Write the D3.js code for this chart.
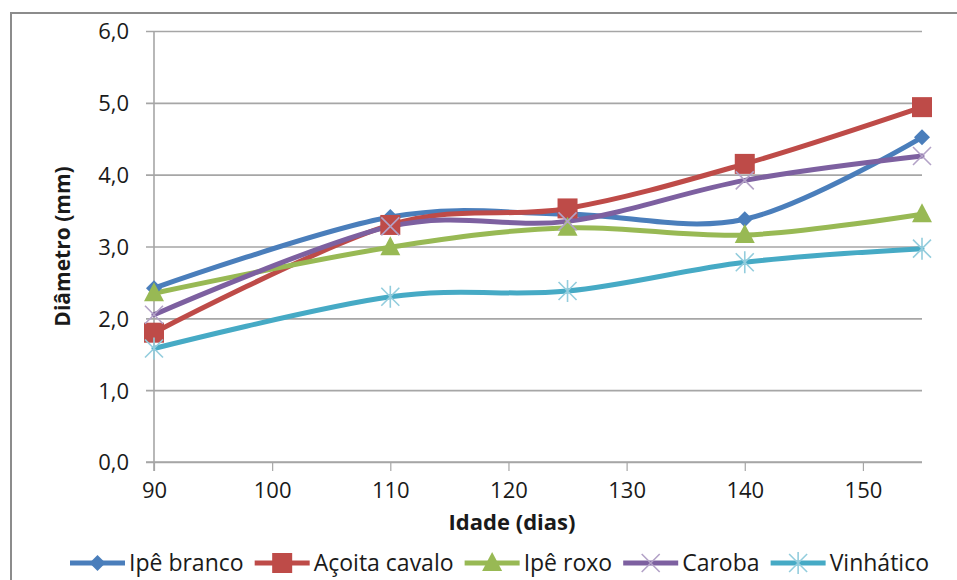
<!DOCTYPE html>
<html>
<head>
<meta charset="utf-8">
<script src="https://cdn.jsdelivr.net/npm/d3@7"></script>
<style>
  html, body { margin: 0; padding: 0; background: #fff; }
  svg { display: block; }
  text { font-family: "Open Sans", Lato, "Liberation Sans", sans-serif; fill: #1a1a1a; }
</style>
</head>
<body>
<svg id="chart" width="957" height="580"></svg>
<script>
// Idade (dias) at which each diameter was measured
const ages = [90, 110, 125, 140, 155];

// Diâmetro (mm) per species
const ipeBranco     = [2.42, 3.41, 3.45, 3.38, 4.52];
const acoitaCavalo  = [1.80, 3.30, 3.53, 4.15, 4.94];
const ipeRoxo       = [2.35, 2.99, 3.26, 3.16, 3.45];
const caroba        = [2.05, 3.28, 3.35, 3.92, 4.26];
const vinhatico     = [1.58, 2.30, 2.38, 2.78, 2.97];

const seriesNames = ["Ipê branco", "Açoita cavalo", "Ipê roxo", "Caroba", "Vinhático"];
const xTicks = [90, 100, 110, 120, 130, 140, 150];
const yTicks = [0, 1, 2, 3, 4, 5, 6];

const seriesValues = [ipeBranco, acoitaCavalo, ipeRoxo, caroba, vinhatico];
const styles = [
  { color: "#4a7ebb", mark: "diamond", markColor: "#4a7ebb" },
  { color: "#be4b48", mark: "square",  markColor: "#be4b48" },
  { color: "#98b954", mark: "triangle",markColor: "#98b954" },
  { color: "#7d60a0", mark: "x",       markColor: "#b3a2c7" },
  { color: "#46aac5", mark: "star",    markColor: "#93cddd" }
];

const FONT = '"Open Sans", Lato, sans-serif';
const svg = d3.select("#chart");
const plot = { left: 154, right: 922, top: 31, bottom: 462 };

const x = d3.scaleLinear().domain([90, 155]).range([plot.left, plot.right]);
const y = d3.scaleLinear().domain([0, 6]).range([plot.bottom, plot.top]);

// Chart area frame
svg.append("rect")
  .attr("x", 11).attr("y", 13).attr("width", 1000).attr("height", 700)
  .attr("fill", "#fff").attr("stroke", "#8c8c8c").attr("stroke-width", 2);

// Horizontal gridlines, starting with a short stub left of the axis
const gy = svg.append("g")
  .attr("transform", `translate(${plot.left - 8},0)`)
  .call(d3.axisLeft(y).tickValues(yTicks)
    .tickFormat(d => d3.format(".1f")(d).replace(".", ",")));
gy.select(".domain").remove();
gy.selectAll(".tick line")
  .attr("x1", 0).attr("x2", plot.right - plot.left + 8)
  .attr("stroke", "#a6a6a6").attr("stroke-width", 1.6);
gy.selectAll(".tick text")
  .attr("x", 129 - (plot.left - 8))
  .attr("text-anchor", "end").attr("dy", "0.36em")
  .style("font-size", "22px").style("font-family", FONT);

// Vertical value axis line
svg.append("line")
  .attr("x1", plot.left).attr("x2", plot.left)
  .attr("y1", plot.top).attr("y2", plot.bottom + 9)
  .attr("stroke", "#a6a6a6").attr("stroke-width", 1.6);

// Bottom axis
const gx = svg.append("g")
  .attr("transform", `translate(0,${plot.bottom})`)
  .call(d3.axisBottom(x).tickValues(xTicks).tickSize(9).tickPadding(11).tickFormat(d3.format("d")));
gx.select(".domain").attr("d", `M${plot.left - 8},0H${plot.right}`)
  .attr("stroke", "#a6a6a6").attr("stroke-width", 1.6);
gx.selectAll(".tick line").attr("stroke", "#a6a6a6").attr("stroke-width", 1.2);
gx.selectAll(".tick text")
  .style("font-size", "22px").style("font-family", FONT);

// Axis titles
svg.append("text")
  .attr("x", 512).attr("y", 530)
  .attr("text-anchor", "middle")
  .style("font-size", "22px").style("font-weight", "bold")
  .text("Idade (dias)");
svg.append("text")
  .attr("transform", `translate(70,${(plot.top + plot.bottom) / 2}) rotate(-90)`)
  .attr("text-anchor", "middle")
  .style("font-size", "21px").style("font-weight", "bold")
  .text("Diâmetro (mm)");

// Marker shapes
function drawMarker(g, kind, color, cx, cy) {
  if (kind === "diamond") {
    g.append("path").attr("d", `M${cx},${cy - 8}L${cx + 8},${cy}L${cx},${cy + 8}L${cx - 8},${cy}Z`)
      .attr("fill", color);
  } else if (kind === "square") {
    g.append("rect").attr("x", cx - 10).attr("y", cy - 10).attr("width", 20).attr("height", 20)
      .attr("fill", color);
  } else if (kind === "triangle") {
    g.append("path").attr("d", `M${cx},${cy - 11}L${cx + 10},${cy + 8}L${cx - 10},${cy + 8}Z`)
      .attr("fill", color);
  } else if (kind === "x") {
    g.append("path").attr("d", `M${cx - 9},${cy - 9}L${cx + 9},${cy + 9}M${cx + 9},${cy - 9}L${cx - 9},${cy + 9}`)
      .attr("stroke", color).attr("stroke-width", 1.6).attr("fill", "none");
  } else if (kind === "star") {
    g.append("path").attr("d", `M${cx - 9},${cy - 9}L${cx + 9},${cy + 9}M${cx + 9},${cy - 9}L${cx - 9},${cy + 9}M${cx},${cy - 11}L${cx},${cy + 11}`)
      .attr("stroke", color).attr("stroke-width", 1.6).attr("fill", "none");
  }
}

// Smoothed series lines
const line = d3.line()
  .x((d, i) => x(ages[i]))
  .y(d => y(d))
  .curve(d3.curveCardinal.tension(0));

const linesG = svg.append("g");
seriesValues.forEach((vals, si) => {
  linesG.append("path")
    .datum(vals)
    .attr("d", line)
    .attr("fill", "none")
    .attr("stroke", styles[si].color)
    .attr("stroke-width", 5)
    .attr("stroke-linejoin", "round")
    .attr("stroke-linecap", "round");
});
const marksG = svg.append("g");
seriesValues.forEach((vals, si) => {
  vals.forEach((v, i) => drawMarker(marksG, styles[si].mark, styles[si].markColor, x(ages[i]), y(v)));
});

// Legend, spread across the row between x=70 and x=929
const legend = svg.append("g");
const legendY = 563;
const items = [];
let textSum = 0;
seriesNames.forEach((name, si) => {
  const g = legend.append("g");
  g.append("line").attr("x1", 0).attr("x2", 55).attr("y1", 0).attr("y2", 0)
    .attr("stroke", styles[si].color).attr("stroke-width", 5);
  drawMarker(g, styles[si].mark, styles[si].markColor, 27.5, 0);
  const t = g.append("text").attr("x", 59).attr("y", 0).attr("dy", "0.36em")
    .style("font-size", "23px").text(name);
  const w = 59 + t.node().getComputedTextLength();
  items.push({ g, w });
  textSum += w;
});
const gap = Math.max(6, (929 - 70 - textSum) / (items.length - 1));
let cursor = 70;
items.forEach(it => {
  it.g.attr("transform", `translate(${cursor},${legendY})`);
  cursor += it.w + gap;
});
</script>
</body>
</html>
